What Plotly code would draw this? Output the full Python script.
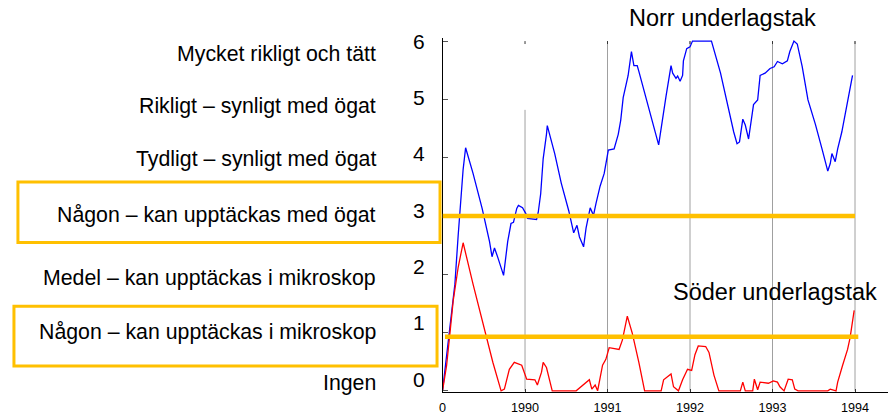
import plotly.graph_objects as go

W, H = 888, 415

# ---------------- data ----------------
year_ticks = [1989, 1990, 1991, 1992, 1993, 1994]
year_tick_text = ["0", "1990", "1991", "1992", "1993", "1994"]

levels = [6, 5, 4, 3, 2, 1, 0]
level_labels = [
    "Mycket rikligt och tätt",
    "Rikligt – synligt med ögat",
    "Tydligt – synligt med ögat",
    "Någon – kan upptäckas med ögat",
    "Medel – kan upptäckas i mikroskop",
    "Någon – kan upptäckas i mikroskop",
    "Ingen",
]

norr_x = [1989.00, 1989.09, 1989.15, 1989.19, 1989.21, 1989.25, 1989.28, 1989.37, 1989.48, 1989.57,
          1989.60, 1989.63, 1989.67, 1989.72, 1989.74, 1989.79, 1989.83, 1989.86, 1989.90, 1989.92,
          1989.97, 1990.01, 1990.03, 1990.14, 1990.16, 1990.19, 1990.22, 1990.26, 1990.27, 1990.36,
          1990.44, 1990.53, 1990.59, 1990.63, 1990.66, 1990.71, 1990.74, 1990.79, 1990.83, 1990.86,
          1990.91, 1990.96, 1991.01, 1991.08, 1991.13, 1991.16, 1991.19, 1991.25, 1991.29, 1991.32,
          1991.36, 1991.38, 1991.49, 1991.56, 1991.62, 1991.71, 1991.77, 1991.79, 1991.83, 1991.85,
          1991.88, 1991.91, 1991.92, 1991.96, 1992.00, 1992.03, 1992.26, 1992.37, 1992.45, 1992.53,
          1992.57, 1992.60, 1992.64, 1992.67, 1992.71, 1992.74, 1992.77, 1992.82, 1992.85, 1992.91,
          1992.97, 1993.02, 1993.06, 1993.12, 1993.18, 1993.21, 1993.26, 1993.30, 1993.36, 1993.43,
          1993.52, 1993.60, 1993.67, 1993.70, 1993.72, 1993.76, 1993.79, 1993.84, 1993.90, 1993.94,
          1993.97]
norr_y = [0.00, 1.14, 1.83, 2.67, 3.06, 3.80, 4.17, 3.73, 3.13, 2.56,
          2.30, 2.45, 2.29, 2.05, 1.98, 2.56, 2.87, 2.89, 3.13, 3.18,
          3.14, 3.04, 2.96, 2.94, 3.06, 3.38, 3.98, 4.40, 4.55, 4.07,
          3.56, 3.09, 2.71, 2.84, 2.64, 2.47, 2.79, 3.14, 3.01, 3.21,
          3.51, 3.73, 4.13, 4.15, 4.40, 4.64, 5.03, 5.41, 5.82, 5.58,
          5.58, 5.48, 4.91, 4.52, 4.22, 5.06, 5.58, 5.45, 5.36, 5.40,
          5.31, 5.41, 5.66, 5.87, 5.90, 6.00, 6.00, 5.45, 4.94, 4.44,
          4.24, 4.27, 4.66, 4.56, 4.32, 4.61, 4.91, 4.99, 5.41, 5.45,
          5.53, 5.56, 5.65, 5.61, 5.66, 5.82, 6.00, 5.95, 5.56, 4.99,
          4.57, 4.15, 3.77, 3.90, 4.07, 3.93, 4.15, 4.44, 4.86, 5.16,
          5.41]

soder_x = [1989.00, 1989.05, 1989.09, 1989.13, 1989.19, 1989.25, 1989.37, 1989.49, 1989.61, 1989.71,
           1989.75, 1989.81, 1989.87, 1989.96, 1990.02, 1990.12, 1990.15, 1990.20, 1990.22, 1990.26,
           1990.33, 1990.62, 1990.74, 1990.78, 1990.81, 1990.85, 1990.88, 1990.94, 1990.98, 1991.02,
           1991.14, 1991.18, 1991.24, 1991.30, 1991.38, 1991.45, 1991.65, 1991.68, 1991.77, 1991.80,
           1991.86, 1991.91, 1991.97, 1992.02, 1992.06, 1992.10, 1992.19, 1992.23, 1992.29, 1992.35,
           1992.61, 1992.64, 1992.67, 1992.76, 1992.78, 1992.82, 1992.85, 1992.95, 1993.01, 1993.06,
           1993.09, 1993.14, 1993.19, 1993.24, 1993.27, 1993.31, 1993.67, 1993.70, 1993.77, 1993.79,
           1993.85, 1993.91, 1993.94, 1993.96, 1993.99]
soder_y = [0.00, 0.44, 0.99, 1.55, 2.12, 2.54, 1.83, 1.16, 0.49, 0.00,
           0.03, 0.37, 0.49, 0.44, 0.20, 0.19, 0.10, 0.32, 0.49, 0.40,
           0.00, 0.00, 0.15, 0.19, 0.03, 0.10, 0.00, 0.44, 0.54, 0.74,
           0.71, 0.87, 1.28, 0.99, 0.49, 0.00, 0.00, 0.19, 0.29, 0.07,
           0.00, 0.19, 0.37, 0.35, 0.62, 0.77, 0.76, 0.66, 0.27, 0.00,
           0.00, 0.15, 0.00, 0.00, 0.20, 0.02, 0.15, 0.13, 0.17, 0.15,
           0.07, 0.00, 0.20, 0.19, 0.03, 0.00, 0.00, 0.03, 0.00, 0.15,
           0.44, 0.71, 0.91, 1.11, 1.38]

threshold_norr = 3.0
threshold_soder = 0.93
title_norr = "Norr underlagstak"
title_soder = "Söder underlagstak"

# ---------------- layout helpers ----------------
FONT = "Liberation Sans, Arial, Helvetica, sans-serif"
YELLOW = "#FFC000"


def px(x):
    return x / W


def py(y):
    return 1 - y / H


fig = go.Figure()
fig.add_trace(go.Scatter(x=norr_x, y=norr_y, mode="lines",
                         line=dict(color="#0000FF", width=1.3), showlegend=False))
fig.add_trace(go.Scatter(x=soder_x, y=soder_y, mode="lines",
                         line=dict(color="#FF0000", width=1.3), showlegend=False))

shapes = []
# vertical year grid lines
for yr in year_ticks[1:]:
    top = 4.82 if yr == year_ticks[1] else max(levels)
    shapes.append(dict(type="line", xref="x", yref="y", x0=yr, x1=yr, y0=0, y1=top,
                       line=dict(color="#a0a0a0", width=1), layer="below"))
    # small dark tick at top
    shapes.append(dict(type="line", xref="x", yref="paper", x0=yr, x1=yr,
                       y0=py(42), y1=py(45), line=dict(color="#333", width=1)))

# threshold lines
shapes.append(dict(type="line", xref="x", yref="y", x0=year_ticks[0], x1=year_ticks[-1],
                   y0=threshold_norr, y1=threshold_norr,
                   line=dict(color=YELLOW, width=4.5), layer="above"))
shapes.append(dict(type="line", xref="x", yref="y", x0=year_ticks[0] + 0.03, x1=year_ticks[-1] + 0.04,
                   y0=threshold_soder, y1=threshold_soder,
                   line=dict(color=YELLOW, width=4.5), layer="above"))
# highlight boxes
shapes.append(dict(type="rect", xref="paper", yref="paper", x0=px(14), x1=px(438),
                   y0=py(248), y1=py(186), line=dict(color=YELLOW, width=3)))
shapes.append(dict(type="rect", xref="paper", yref="paper", x0=px(10), x1=px(435),
                   y0=py(374), y1=py(313), line=dict(color=YELLOW, width=3)))

annotations = []
label_y_px = [55, 108, 163, 220, 284, 339, 392]
for txt, ypx in zip(level_labels, label_y_px):
    annotations.append(dict(text=txt, xref="paper", yref="paper", x=px(376), y=py(ypx),
                            xanchor="right", yanchor="middle", showarrow=False,
                            font=dict(family=FONT, size=21.3, color="black")))
for i, lv in enumerate(levels):
    annotations.append(dict(text=str(lv), xref="paper", yref="paper", x=px(417), y=py(42 + i * 57.6),
                            xanchor="center", yanchor="middle", showarrow=False,
                            font=dict(family=FONT, size=21, color="black")))
annotations.append(dict(text=title_norr, xref="paper", yref="paper", x=px(626), y=py(18),
                        xanchor="left", yanchor="middle", showarrow=False,
                        font=dict(family=FONT, size=23.5, color="black")))
annotations.append(dict(text=title_soder, xref="paper", yref="paper", x=px(670), y=py(298),
                        xanchor="left", yanchor="middle", showarrow=False,
                        font=dict(family=FONT, size=23.5, color="black")))

fig.update_layout(
    width=W, height=H,
    margin=dict(l=0, r=0, t=0, b=0, pad=0),
    paper_bgcolor="white", plot_bgcolor="white",
    showlegend=False,
    shapes=shapes,
    annotations=annotations,
    xaxis=dict(domain=[440.5 / W, 1.0], range=[1989, 1994.4],
               showline=True, linecolor="black", linewidth=1,
               ticks="inside", ticklen=3, tickcolor="#333",
               tickvals=year_ticks, ticktext=year_tick_text,
               tickfont=dict(family=FONT, size=12.6, color="black"),
               ticklabelstandoff=4,
               showgrid=False, zeroline=False),
    yaxis=dict(domain=[1 - 401 / H, 1 - 39 / H], range=[-0.025, 6.05],
               showline=True, linecolor="black", linewidth=1,
               ticks="inside", ticklen=5, tickcolor="#555",
               tickvals=levels, showticklabels=False,
               showgrid=False, zeroline=False),
)

fig.write_html(
    "out.html",
    config={"displayModeBar": False},
    post_script="document.body.style.margin='0';document.body.style.padding='0';"
                "document.body.style.overflow='hidden';",
)
